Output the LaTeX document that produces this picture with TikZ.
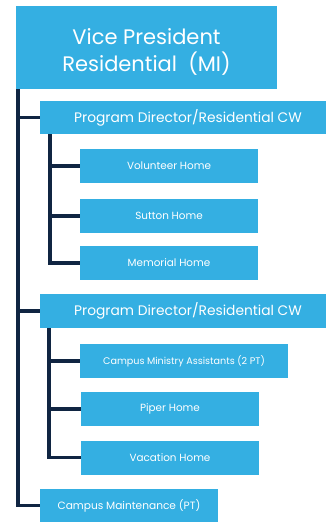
\documentclass[tikz,border=0pt]{standalone}
\usepackage{fontspec}
\setmainfont{Poppins}
\definecolor{boxblue}{RGB}{52,175,226}
\definecolor{navy}{RGB}{16,37,66}
\begin{document}
\begin{tikzpicture}[x=1pt,y=1pt,
  box/.style={fill=boxblue,draw=none,text=white,inner sep=0pt,align=center},
  small/.style={box,minimum width=178,minimum height=34,font=\fontsize{10.4}{12}\selectfont},
  mid/.style={box,minimum width=296,minimum height=34,font=\fontsize{13.8}{16}\selectfont},
  conn/.style={draw=navy,line width=3.5pt}]
\useasboundingbox (0,0) rectangle (325,-523);
\node[box,minimum width=261,minimum height=83] (vp) at (146.5,-47.5) {};
\node[text=white,inner sep=0pt,align=center,font=\fontsize{21}{27}\selectfont] (vpt) at ([yshift=-4]vp.center) {Vice President\\Residential~~(MI)};
\node[mid,minimum height=33] (pd1) at (188,-117.5) {Program Director/Residential CW};
\node[small] (v) at (169,-166) {Volunteer Home};
\node[small] (s) at (169,-216) {Sutton Home};
\node[small] (m) at (169,-263) {Memorial Home};
\node[mid] (pd2) at (188,-311) {Program Director/Residential CW};
\node[small,minimum width=208,font=\fontsize{9.6}{12}\selectfont] (cma) at (184,-361) {Campus Ministry Assistants (2 PT)};
\node[small] (p) at (170,-409) {Piper Home};
\node[small] (va) at (170,-457.5) {Vacation Home};
\node[small,minimum height=33,font=\fontsize{10.6}{12}\selectfont] (cm) at (129,-505.5) {Campus Maintenance (PT)};
% connector trunks
\coordinate (t0) at (18,-89);
\coordinate (t1) at (50,-134);
\coordinate (t2) at (49,-328);
\draw[conn] (t0) |- (cm.west);
\draw[conn] (t0 |- pd1.west) -- (pd1.west);
\draw[conn] (t0 |- pd2.west) -- (pd2.west);
\draw[conn] (t1) |- (m.west);
\draw[conn] (t1 |- v.west) -- (v.west);
\draw[conn] (t1 |- s.west) -- (s.west);
\draw[conn] (t2) |- (va.west);
\draw[conn] (t2 |- cma.west) -- (cma.west);
\draw[conn] (t2 |- p.west) -- (p.west);
\end{tikzpicture}
\end{document}
